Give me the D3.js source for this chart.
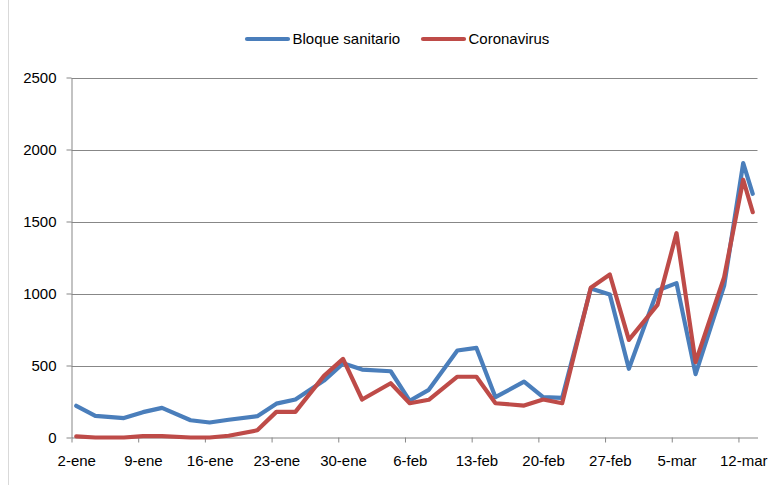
<!DOCTYPE html>
<html><head><meta charset="utf-8">
<script src="https://cdn.jsdelivr.net/npm/d3@7"></script>
<style>
body{margin:0;background:#fff}
svg{display:block}
text{font-family:"Liberation Sans",Arial,sans-serif;font-size:15px;fill:#000}
</style>
</head><body>
<svg id="chart" width="773" height="485"></svg>
<script>
const dates = ["2020-01-02","2020-01-04","2020-01-07","2020-01-09","2020-01-11","2020-01-14","2020-01-16","2020-01-18",
  "2020-01-21","2020-01-23","2020-01-25","2020-01-28","2020-01-30","2020-02-01","2020-02-04","2020-02-06",
  "2020-02-08","2020-02-11","2020-02-13","2020-02-15","2020-02-18","2020-02-20","2020-02-22","2020-02-25",
  "2020-02-27","2020-02-29","2020-03-03","2020-03-05","2020-03-07","2020-03-10","2020-03-12","2020-03-13"];
const bloque = [220,150,135,176,206,120,104,123,148,235,264,395,515,472,460,255,331,604,622,280,388,280,275,1035,993,477,1021,1072,440,1055,1905,1692];
const corona = [8,0,0,10,10,0,0,12,50,178,178,428,546,264,377,238,262,422,422,238,222,264,238,1040,1132,678,921,1419,523,1113,1790,1565];
const seriesNames = ["Bloque sanitario","Coronavirus"];
const seriesColors = ["#4a7ebb","#be4b48"];
const yTicks = [0,500,1000,1500,2000,2500];
const xTickDates = ["2020-01-02","2020-01-09","2020-01-16","2020-01-23","2020-01-30","2020-02-06","2020-02-13","2020-02-20","2020-02-27","2020-03-05","2020-03-12"];
const monthNames = ["ene","feb","mar"];

const svg = d3.select("#chart");
const parse = d3.utcParse("%Y-%m-%d");
const x = d3.scaleUtc().domain([parse("2020-01-02"), parse("2020-03-14")]).range([71.5, 757.5]);
const y = d3.scaleLinear().domain([0, 2500]).range([437.5, 77.5]);
const halfDay = (x(parse("2020-01-03")) - x(parse("2020-01-02"))) / 2;
const gridCol = "#878787";

// chart border (left edge visible)
svg.append("line").attr("x1",8.5).attr("x2",8.5).attr("y1",0).attr("y2",485).attr("stroke","#d9d9d9");

// gridlines
svg.append("g").selectAll("line").data(yTicks.filter(d => d > 0)).join("line")
  .attr("x1", 71.5).attr("x2", 757.5)
  .attr("y1", d => Math.round(y(d)) + 0.5).attr("y2", d => Math.round(y(d)) + 0.5)
  .attr("stroke", gridCol).attr("stroke-width", 1);

// y axis
const yAxis = svg.append("g").attr("transform","translate(71.5,0)")
  .call(d3.axisLeft(y).tickValues(yTicks).tickSize(5).tickSizeOuter(0).tickPadding(10).tickFormat(d3.format("d")));
yAxis.selectAll("path,line").attr("stroke", gridCol);
yAxis.selectAll("text").style("font-size","15px").style("font-family","Liberation Sans, Arial, sans-serif");

// x axis
const fmt = d => d.getUTCDate() + "-" + monthNames[d.getUTCMonth()];
const xAxis = svg.append("g").attr("transform","translate(0,437.5)")
  .call(d3.axisBottom(x).tickValues(xTickDates.map(parse)).tickSize(5).tickSizeOuter(0).tickPadding(13).tickFormat(fmt));
xAxis.selectAll("path,line").attr("stroke", gridCol);
xAxis.selectAll("text").attr("dx", halfDay).style("font-size","15px").style("font-family","Liberation Sans, Arial, sans-serif");

// lines
const line = d3.line()
  .x((d, i) => x(parse(dates[i])) + halfDay)
  .y(d => y(d));
[bloque, corona].forEach((s, k) => {
  svg.append("path").datum(s)
    .attr("fill","none").attr("stroke", seriesColors[k]).attr("stroke-width", 4.2)
    .attr("stroke-linejoin","round").attr("stroke-linecap","round")
    .attr("d", line);
});

// legend
const legendX = [247, 423];
const legend = svg.append("g");
seriesNames.forEach((name, k) => {
  legend.append("line").attr("x1", legendX[k]).attr("x2", legendX[k] + 41)
    .attr("y1", 39).attr("y2", 39).attr("stroke", seriesColors[k]).attr("stroke-width", 4.2).attr("stroke-linecap","round");
  legend.append("text").attr("x", legendX[k] + 45.5).attr("y", 43.5).text(name);
});
</script>
</body></html>
